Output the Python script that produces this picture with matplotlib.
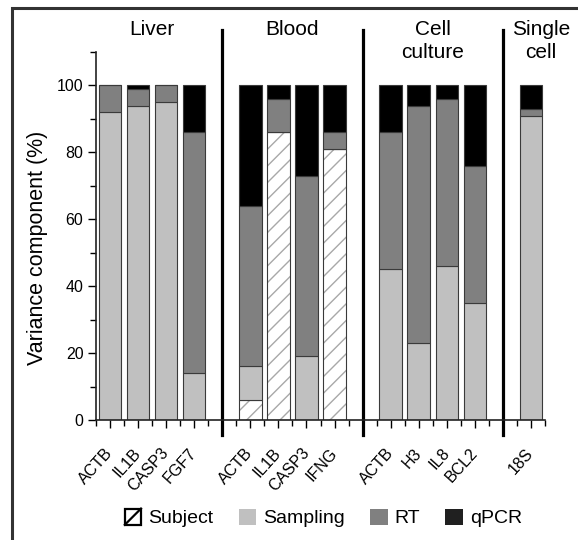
import matplotlib
matplotlib.use("Agg")
import matplotlib.pyplot as plt
from matplotlib.patches import Rectangle, Patch
from matplotlib.lines import Line2D
from matplotlib.legend_handler import HandlerBase
from matplotlib.ticker import MultipleLocator, FixedLocator
import numpy as np

plt.rcParams['font.family'] = ['Liberation Sans', 'DejaVu Sans']

# data (percent of total variance)
groups = ['Liver', 'Blood', 'Cell\nculture', 'Single\ncell']
group_sizes = [4, 4, 4, 1]
genes = ['ACTB', 'IL1B', 'CASP3', 'FGF7',
         'ACTB', 'IL1B', 'CASP3', 'IFNG',
         'ACTB', 'H3', 'IL8', 'BCL2',
         '18S']
subject = [0, 0, 0, 0, 6, 86, 0, 81, 0, 0, 0, 0, 0]
sampling = [92, 94, 95, 14, 10, 0, 19, 0, 45, 23, 46, 35, 91]
rt = [8, 5, 5, 72, 48, 10, 54, 5, 41, 71, 50, 41, 2]
qpcr = [0, 1, 0, 14, 36, 4, 27, 14, 14, 6, 4, 24, 7]

# bar positions: groups separated by one empty slot
pos = []
seps = []
start = 1
for n in group_sizes:
    pos += list(range(start, start + n))
    seps.append(start + n)
    start += n + 1
seps = seps[:-1]
pos = np.array(pos)

subject = np.array(subject)
sampling = np.array(sampling)
rt = np.array(rt)
qpcr = np.array(qpcr)

fig = plt.figure(figsize=(5.78, 5.40), dpi=100)
ax = fig.add_axes([96/578, 120/540, 449/578, 368/540])

w = 0.8
ec = '#3a3a3a'
lw = 0.8

# subject: hatched white
ax.bar(pos, subject, w, color='white', edgecolor='#a8a8a8', hatch='//', linewidth=0)
ax.bar(pos, subject, w, fill=False, edgecolor=ec, linewidth=lw)
b = subject
ax.bar(pos, sampling, w, bottom=b, color='#c0c0c0', edgecolor=ec, linewidth=lw)
b = b + sampling
ax.bar(pos, rt, w, bottom=b, color='#808080', edgecolor=ec, linewidth=lw)
b = b + rt
ax.bar(pos, qpcr, w, bottom=b, color='black', edgecolor=ec, linewidth=lw)

ax.set_xlim(0.5, pos[-1] + 0.5)
ax.set_ylim(0, 110)
for s in ['top', 'right']:
    ax.spines[s].set_visible(False)
for s in ['left', 'bottom']:
    ax.spines[s].set_linewidth(1.2)
    ax.spines[s].set_color('#222222')

ax.yaxis.set_major_locator(MultipleLocator(20))
ax.yaxis.set_minor_locator(MultipleLocator(10))
ax.set_yticks([0, 20, 40, 60, 80, 100])
ax.tick_params(axis='y', which='major', length=6, width=1, labelsize=11.5, pad=3)
ax.tick_params(axis='y', which='minor', length=4, width=1)

ax.xaxis.set_major_locator(FixedLocator(np.arange(1, pos[-1] + 1)))
ax.xaxis.set_minor_locator(FixedLocator(np.arange(0.5, pos[-1] + 1, 1.0)))
labels = [''] * pos[-1]
for p, g in zip(pos, genes):
    labels[p - 1] = g
ax.set_xticklabels(labels, rotation=48, ha='right', va='center', rotation_mode='anchor')
ax.tick_params(axis='x', which='major', length=6, width=1, labelsize=11.5, pad=16)
ax.tick_params(axis='x', which='minor', length=4, width=1)

ax.set_ylabel('Variance component (%)', fontsize=15.5)
ax.yaxis.set_label_coords(-48/449, 0.467)

# group separators and titles
for s in seps:
    ax.plot([s, s], [-4.5, 116.5], color='black', lw=2.3, clip_on=False)
starts = [0] + list(np.cumsum(group_sizes))
for i, g in enumerate(groups):
    gp = pos[starts[i]:starts[i + 1]]
    xc = gp.mean() if len(gp) > 1 else gp[0] + 0.35
    ax.text(xc, 119.5, g, ha='center', va='top', fontsize=15, linespacing=1.25)


class HatchHandler(HandlerBase):
    def create_artists(self, legend, orig, xd, yd, width, height, fontsize, trans):
        s = height
        x0 = -xd + (width - s) / 2
        y0 = -yd
        r = Rectangle((x0, y0), s, s, facecolor='white', edgecolor='black',
                      linewidth=1.6, transform=trans)
        l = Line2D([x0, x0 + s], [y0, y0 + s], color='black', lw=1.6, transform=trans)
        return [r, l]


h_subj = Patch(facecolor='white', edgecolor='black')
h_samp = Patch(facecolor='#c0c0c0', edgecolor='none')
h_rt = Patch(facecolor='#808080', edgecolor='none')
h_q = Patch(facecolor='#202020', edgecolor='none')
fig.legend([h_subj, h_samp, h_rt, h_q], ['Subject', 'Sampling', 'RT', 'qPCR'],
           handler_map={h_subj: HatchHandler()},
           loc='center', bbox_to_anchor=(323/578, 22/540), ncol=4, frameon=False,
           fontsize=14, handlelength=0.9, handleheight=0.9, handletextpad=0.35,
           columnspacing=1.3, borderpad=0)

# outer frame (cropped on right and bottom)
fig.patches.append(Rectangle((12/578, -0.1), 1.0, 1.1 - 8/540, transform=fig.transFigure,
                             fill=False, edgecolor='#333333', linewidth=2.2))

fig.savefig('out.png', dpi=100)
